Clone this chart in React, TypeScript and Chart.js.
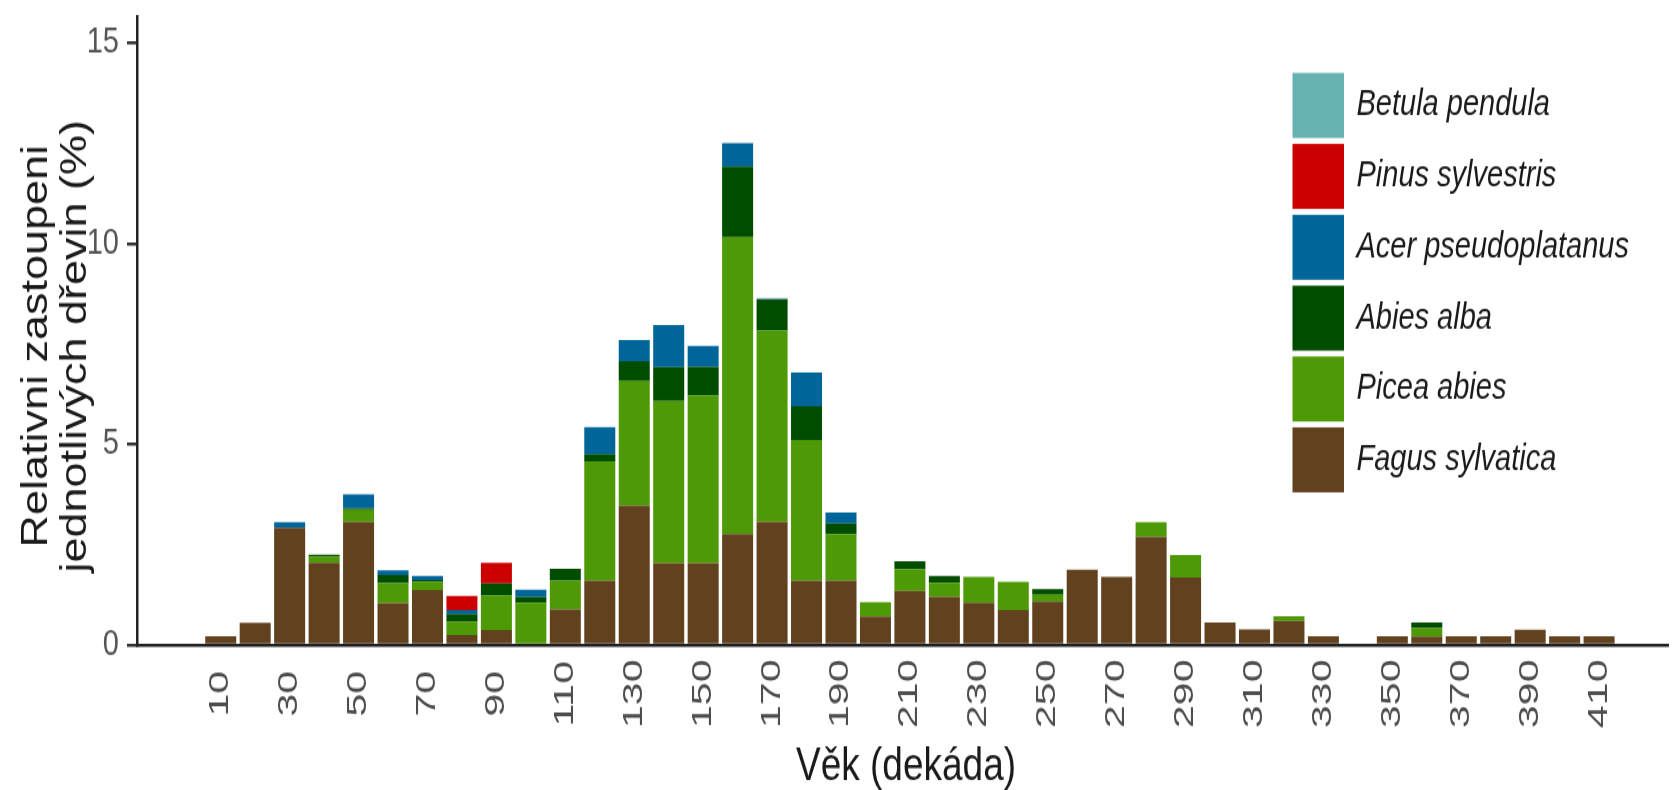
import React, { useEffect, useRef } from 'react';
import { Chart, registerables } from 'chart.js';

Chart.register(...registerables);

// Age classes (decades)
const AGES = [10, 20, 30, 40, 50, 60, 70, 80, 90, 100, 110, 120, 130, 140, 150, 160, 170, 180, 190, 200, 210, 220, 230, 240, 250, 260, 270, 280, 290, 300, 310, 320, 330, 340, 350, 360, 370, 380, 390, 400, 410];

// Series values (%), stacked bottom -> top
const FAGUS = [0.22, 0.55, 2.92, 2.05, 3.07, 1.04, 1.37, 0.25, 0.37, 0, 0.89, 1.6, 3.47, 2.04, 2.04, 2.76, 3.07, 1.6, 1.6, 0.71, 1.35, 1.2, 1.05, 0.87, 1.08, 1.88, 1.7, 2.69, 1.68, 0.56, 0.39, 0.6, 0.22, 0, 0.22, 0.21, 0.22, 0.22, 0.38, 0.22, 0.22];
const PICEA = [0, 0, 0, 0.15, 0.3, 0.5, 0.2, 0.33, 0.87, 1.05, 0.71, 2.98, 3.11, 4.04, 4.18, 7.4, 4.76, 3.51, 1.16, 0.36, 0.54, 0.35, 0.65, 0.7, 0.17, 0, 0, 0.37, 0.56, 0, 0, 0.12, 0, 0, 0, 0.21, 0, 0, 0, 0, 0];
const ABIES = [0, 0, 0, 0.05, 0.03, 0.2, 0.05, 0.19, 0.29, 0.15, 0.3, 0.18, 0.49, 0.84, 0.71, 1.76, 0.78, 0.84, 0.27, 0, 0.2, 0.17, 0, 0, 0.14, 0, 0, 0, 0, 0, 0, 0, 0, 0, 0, 0.14, 0, 0, 0, 0, 0];
const ACER = [0, 0, 0.14, 0, 0.35, 0.12, 0.1, 0.1, 0, 0.18, 0, 0.67, 0.53, 1.05, 0.52, 0.58, 0.02, 0.84, 0.27, 0, 0, 0, 0, 0, 0, 0, 0, 0, 0, 0, 0, 0, 0, 0, 0, 0, 0, 0, 0, 0, 0];
const PINUS = [0, 0, 0, 0, 0, 0, 0, 0.35, 0.52, 0, 0, 0, 0, 0, 0, 0, 0, 0, 0, 0, 0, 0, 0, 0, 0, 0, 0, 0, 0, 0, 0, 0, 0, 0, 0, 0, 0, 0, 0, 0, 0];
const BETULA = [0, 0, 0, 0, 0, 0, 0, 0, 0, 0, 0, 0, 0, 0, 0, 0, 0, 0, 0, 0, 0, 0, 0, 0, 0, 0, 0, 0, 0, 0, 0, 0, 0, 0, 0, 0, 0, 0, 0, 0, 0];

// Species names (legend order, top -> bottom)
const SPECIES = ['Betula pendula', 'Pinus sylvestris', 'Acer pseudoplatanus', 'Abies alba', 'Picea abies', 'Fagus sylvatica'];
const SPECIES_COLORS = ['#66b2b2', '#cc0000', '#006699', '#004d00', '#4d9a06', '#62411f'];

// Tick labels
const X_TICKS = [10, 30, 50, 70, 90, 110, 130, 150, 170, 190, 210, 230, 250, 270, 290, 310, 330, 350, 370, 390, 410];
const Y_TICKS = [0, 5, 10, 15];

const X_TITLE = 'Věk (dekáda)';
const Y_TITLE = ['Relativni zastoupeni', 'jednotlivých dřevin (%)'];

const W = 1675;
const H = 632;
const STRETCH = 790 / H;
const FAMILY = "'Liberation Sans', Arial, Helvetica, sans-serif";

const overlayPlugin = {
  id: 'overlay',
  afterDraw(chart: any) {
    const ctx = chart.ctx as CanvasRenderingContext2D;
    const xs = chart.scales.x;
    const area = chart.chartArea;
    ctx.save();

    // x tick labels (rotated, centred)
    ctx.fillStyle = '#4d4d4d';
    ctx.font = `27px ${FAMILY}`;
    ctx.textAlign = 'center';
    ctx.textBaseline = 'middle';
    for (const v of X_TICKS) {
      const px = xs.getPixelForValue(v);
      ctx.save();
      ctx.translate(px, area.bottom + 39);
      ctx.rotate(-Math.PI / 2);
      ctx.scale(1.22, 1);
      ctx.fillText(String(v), 0, 0);
      ctx.restore();
    }

    // x title
    ctx.fillStyle = '#1a1a1a';
    ctx.font = `37px ${FAMILY}`;
    ctx.textAlign = 'center';
    ctx.textBaseline = 'alphabetic';
    ctx.fillText(X_TITLE, 906, 624);

    // y title (two lines)
    ctx.font = `36px ${FAMILY}`;
    const cy = 277;
    const baselines = [47, 86];
    Y_TITLE.forEach((line, i) => {
      ctx.save();
      ctx.translate(baselines[i], cy);
      ctx.rotate(-Math.PI / 2);
      ctx.fillText(line, 0, 0);
      ctx.restore();
    });

    // legend
    const boxX = 1292.5;
    const boxW = 51.5;
    const boxH = 52;
    const top0 = 58.4;
    const pitch = 56.7;
    ctx.font = `italic 29px ${FAMILY}`;
    ctx.textAlign = 'left';
    ctx.textBaseline = 'middle';
    SPECIES.forEach((name, i) => {
      const y = top0 + i * pitch;
      ctx.fillStyle = SPECIES_COLORS[i];
      ctx.fillRect(boxX, y, boxW, boxH);
      ctx.fillStyle = '#1a1a1a';
      ctx.fillText(name, 1356.5, y + boxH / 2);
    });

    ctx.restore();
  },
};

export default function App() {
  const canvasRef = useRef<HTMLCanvasElement | null>(null);

  useEffect(() => {
    if (!canvasRef.current) return;
    const seriesBottomUp = [FAGUS, PICEA, ABIES, ACER, PINUS, BETULA];
    const namesBottomUp = [...SPECIES].reverse();
    const colorsBottomUp = [...SPECIES_COLORS].reverse();

    const datasets = seriesBottomUp.map((vals, i) => ({
      label: namesBottomUp[i],
      data: AGES.map((a, j) => ({ x: a, y: vals[j] })),
      backgroundColor: colorsBottomUp[i],
      borderWidth: 0,
      barPercentage: 0.9,
      categoryPercentage: 1.0,
      stack: 'all',
    }));

    const chart = new Chart(canvasRef.current, {
      type: 'bar',
      data: { datasets } as any,
      options: {
        responsive: false,
        animation: false,
        devicePixelRatio: 1,
        events: [],
        layout: { padding: { left: 0, right: 7, top: 12.8, bottom: 0 } },
        plugins: {
          legend: { display: false },
          tooltip: { enabled: false },
          title: { display: false },
        },
        scales: {
          x: {
            type: 'linear',
            min: -14.3,
            max: 430,
            offset: false,
            grid: { display: false },
            border: { display: true, color: '#222', width: 2.5, z: 1 },
            ticks: { display: false },
            afterFit(s: any) {
              s.height = H - 516;
              s.paddingLeft = 0;
              s.paddingRight = 0;
            },
          },
          y: {
            stacked: true,
            min: 0,
            max: 15.67,
            afterBuildTicks(s: any) {
              s.ticks = Y_TICKS.map((v) => ({ value: v }));
            },
            grid: {
              display: true,
              drawOnChartArea: false,
              drawTicks: true,
              tickLength: 10,
              tickColor: '#333',
              tickWidth: 2.5,
              lineWidth: 2.5,
              color: '#333',
            },
            border: { display: true, color: '#222', width: 2.5, z: 1 },
            ticks: {
              padding: 8,
              color: '#555555',
              font: { size: 29, lineHeight: 0.85, family: FAMILY },
            },
            afterFit(s: any) {
              s.width = 137;
              s.paddingTop = 0;
              s.paddingBottom = 0;
            },
          },
        },
      } as any,
      plugins: [overlayPlugin],
    });

    return () => {
      chart.destroy();
    };
  }, []);

  return (
    <div style={{ position: 'fixed', left: 0, top: 0, width: W, height: 790, overflow: 'hidden', background: '#fff' }}>
      <div style={{ transform: `scaleY(${STRETCH})`, transformOrigin: '0 0', width: W, height: H }}>
        <canvas ref={canvasRef} width={W} height={H} style={{ display: 'block' }} />
      </div>
    </div>
  );
}
